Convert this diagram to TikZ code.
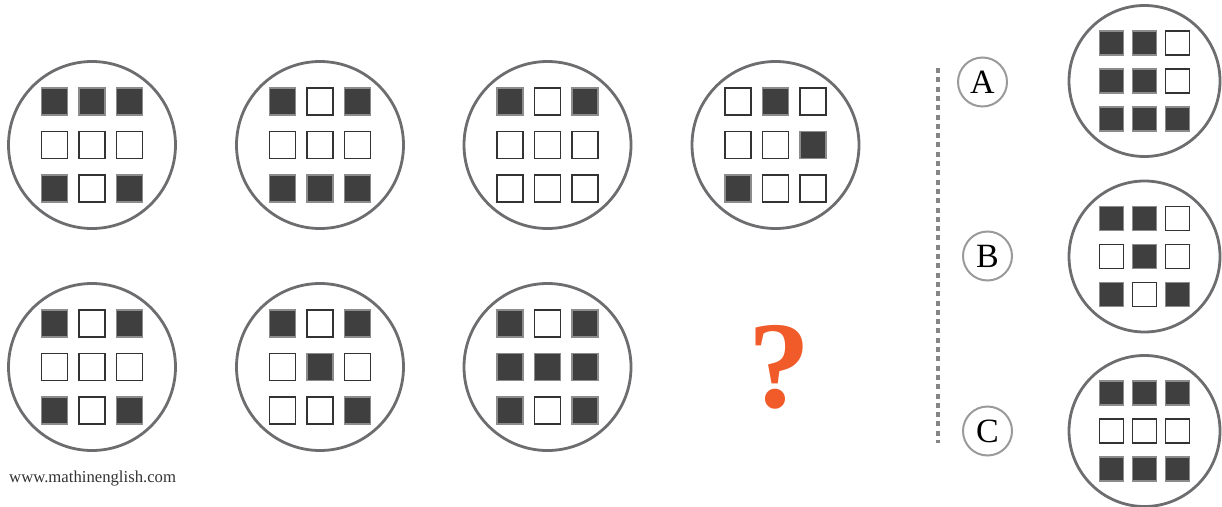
\documentclass[tikz,border=0pt]{standalone}
\usepackage{fontspec}
\setmainfont{Liberation Serif}
\definecolor{ringgray}{HTML}{6D6D70}
\definecolor{fillgray}{HTML}{3F3F3F}
\definecolor{edgegray}{HTML}{8C8C8C}
\definecolor{darkedge}{HTML}{333333}
\definecolor{labgray}{HTML}{9A9A9A}
\definecolor{dashgray}{HTML}{858585}
\definecolor{qorange}{HTML}{F15A29}
\tikzset{
  ring/.style={circle, draw=ringgray, line width=2.8pt, fill=white, inner sep=0pt},
  fullsq/.style={rectangle, draw=edgegray, fill=fillgray, line width=1.1pt, inner sep=0pt},
  emptysq/.style={rectangle, draw=darkedge, fill=white, line width=1.2pt, inner sep=0pt},
  labring/.style={circle, draw=labgray, line width=2pt, inner sep=0pt, minimum size=49pt, font=\fontsize{34}{34}\selectfont},
}
% name, x, y, ring diameter, square w, square h, col pitch, row pitch, pattern
\newcommand\panel[9]{%
  \node[ring, minimum size=#4pt] (#1) at (#2,#3) {};
  \foreach \v [count=\i from 0] in {#9} {
    \pgfmathtruncatemacro\cc{mod(\i,3)}
    \pgfmathtruncatemacro\rr{int(\i/3)}
    \ifnum\v=1
      \node[fullsq, minimum width=#5pt, minimum height=#6pt] (#1-\i) at ({#2+(\cc-1)*#7},{#3+(\rr-1)*#8}) {};
    \else
      \node[emptysq, minimum width=#5pt, minimum height=#6pt] (#1-\i) at ({#2+(\cc-1)*#7},{#3+(\rr-1)*#8}) {};
    \fi
  }}
\begin{document}
\begin{tikzpicture}[x=1pt,y=-1pt]
\useasboundingbox (0,0) rectangle (1222,506);
% top row
\panel{p1}{92}{145}{167}{26}{27}{37.5}{43.5}{1,1,1,0,0,0,1,0,1}
\panel{p2}{320}{145}{167}{26}{27}{37.5}{43.5}{1,0,1,0,0,0,1,1,1}
\panel{p3}{547.5}{145}{167}{26}{27}{37.5}{43.5}{1,0,1,0,0,0,0,0,0}
\panel{p4}{775.5}{145}{167}{26}{27}{37.5}{43.5}{0,1,0,0,0,1,1,0,0}
% bottom row
\panel{p5}{92}{367}{167}{26}{27}{37.5}{43.5}{1,0,1,0,0,0,1,0,1}
\panel{p6}{320}{367}{167}{26}{27}{37.5}{43.5}{1,0,1,0,1,0,0,0,1}
\panel{p7}{547.5}{367}{167}{26}{27}{37.5}{43.5}{1,0,1,1,1,1,1,0,1}
% question mark
\node[text=qorange, inner sep=0pt, font=\fontsize{124}{124}\selectfont\bfseries] (q) at (779,367.5) {?};
% dashed separator
\coordinate (d1) at (938,68);
\coordinate (d2) at (938,443);
\draw[dashgray, line width=3.4pt, dash pattern=on 5pt off 4.3pt] (d1) -- (d2);
% options
\node[labring] (la) at (982.5,82) {A};
\node[labring] (lb) at (987.5,256) {B};
\node[labring] (lc) at (987.5,431) {C};
\panel{oa}{1144.5}{81}{151}{24}{24}{33}{38}{1,1,0,1,1,0,1,1,1}
\panel{ob}{1144.5}{256.5}{151}{24}{24}{33}{38}{1,1,0,0,1,0,1,0,1}
\panel{oc}{1144.5}{431}{151}{24}{24}{33}{38}{1,1,1,0,0,0,1,1,1}
% watermark
\node[anchor=base west, inner sep=0pt, text=darkedge, font=\fontsize{16.7}{17}\selectfont] (wm) at (9,482.5) {www.mathinenglish.com};
\end{tikzpicture}
\end{document}
